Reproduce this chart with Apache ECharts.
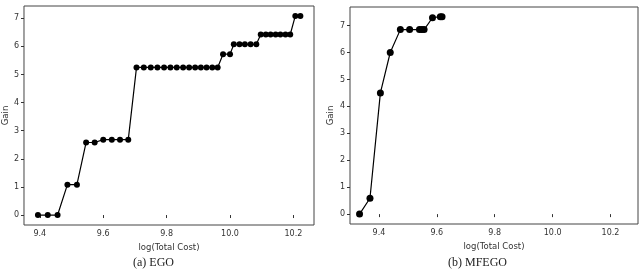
<!DOCTYPE html>
<html>
<head>
<meta charset="utf-8">
<script src="https://cdn.jsdelivr.net/npm/echarts@6/dist/echarts.min.js"></script>
<style>
  html, body { margin: 0; padding: 0; background: #fff; }
  #chart { width: 644px; height: 273px; }
</style>
</head>
<body>
<div id="chart"></div>
<script>
const xTicks = [9.4, 9.6, 9.8, 10.0, 10.2];
const yTicks = [0, 1, 2, 3, 4, 5, 6, 7];

const egoCost = [
  9.394, 9.425, 9.456, 9.487, 9.517, 9.546, 9.573, 9.600, 9.627, 9.653, 9.679,
  9.705, 9.728, 9.750, 9.771, 9.792, 9.812, 9.832, 9.852, 9.871, 9.890, 9.908, 9.926, 9.944, 9.961,
  9.978, 10.000,
  10.012, 10.030, 10.047, 10.065, 10.083,
  10.097, 10.113, 10.128, 10.144, 10.159, 10.175, 10.190,
  10.206, 10.222
];
const egoGain = [
  0, 0, 0, 1.08, 1.08, 2.58, 2.58, 2.68, 2.68, 2.68, 2.68,
  5.25, 5.25, 5.25, 5.25, 5.25, 5.25, 5.25, 5.25, 5.25, 5.25, 5.25, 5.25, 5.25, 5.25,
  5.72, 5.72,
  6.07, 6.07, 6.07, 6.07, 6.07,
  6.42, 6.42, 6.42, 6.42, 6.42, 6.42, 6.42,
  7.08, 7.08
];

const mfegoCost = [9.333, 9.369, 9.405, 9.439, 9.474, 9.506, 9.540, 9.548, 9.556, 9.585, 9.612, 9.618];
const mfegoGain = [0, 0.59, 4.5, 6.0, 6.85, 6.85, 6.85, 6.85, 6.85, 7.29, 7.33, 7.33];

const font = "DejaVu Sans";
const textColor = "#333";

function pairs(xs, ys) {
  return xs.map((x, i) => [x, ys[i]]);
}

function xAxisFor(gridIndex, min, max) {
  return {
    type: "value",
    gridIndex: gridIndex,
    min: min,
    max: max,
    name: "log(Total Cost)",
    nameLocation: "middle",
    nameGap: 18,
    nameTextStyle: { color: textColor, fontFamily: font, fontSize: 8.5 },
    axisLine: { show: false },
    axisTick: { show: true, customValues: xTicks, length: 3, lineStyle: { color: "#333" } },
    axisLabel: {
      customValues: xTicks,
      color: textColor,
      fontFamily: font,
      fontSize: 8,
      margin: 5,
      formatter: (v) => Number(v).toFixed(1),
    },
    splitLine: { show: false },
  };
}

function yAxisFor(gridIndex, min, max, nameGap) {
  return {
    type: "value",
    gridIndex: gridIndex,
    min: min,
    max: max,
    name: "Gain",
    nameLocation: "middle",
    nameGap: nameGap,
    nameTextStyle: { color: textColor, fontFamily: font, fontSize: 8.5 },
    axisLine: { show: false },
    axisTick: { show: true, customValues: yTicks, length: 3, lineStyle: { color: "#333" } },
    axisLabel: {
      customValues: yTicks,
      color: textColor,
      fontFamily: font,
      fontSize: 8,
      margin: 5,
      formatter: (v) => String(Math.round(v)),
    },
    splitLine: { show: false },
  };
}

function lineSeries(idx, data, size) {
  return {
    type: "line",
    xAxisIndex: idx,
    yAxisIndex: idx,
    data: data,
    symbol: "circle",
    symbolSize: size,
    showSymbol: true,
    itemStyle: { color: "#000" },
    lineStyle: { color: "#000", width: 1.2 },
    animation: false,
  };
}

const chart = echarts.init(document.getElementById("chart"));
chart.setOption({
  backgroundColor: "#fff",
  animation: false,
  grid: [
    { left: 20, top: 6, width: 294, height: 219, show: true, borderColor: "#444", borderWidth: 1, backgroundColor: "transparent" },
    { left: 350, top: 7, width: 288, height: 217, show: true, borderColor: "#444", borderWidth: 1, backgroundColor: "transparent" },
  ],
  xAxis: [xAxisFor(0, 9.35, 10.265), xAxisFor(1, 9.30, 10.295)],
  yAxis: [yAxisFor(0, -0.354, 7.434, 12), yAxisFor(1, -0.367, 7.69, 15)],
  series: [
    lineSeries(0, pairs(egoCost, egoGain), 6),
    lineSeries(1, pairs(mfegoCost, mfegoGain), 7),
  ],
  graphic: [
    {
      type: "text",
      left: 160 - 27,
      top: 257,
      style: { text: "(a) EGO", fontFamily: "Liberation Serif", fontSize: 12, fill: "#222" },
    },
    {
      type: "text",
      left: 484 - 36,
      top: 257,
      style: { text: "(b) MFEGO", fontFamily: "Liberation Serif", fontSize: 12, fill: "#222" },
    },
  ],
});
</script>
</body>
</html>
